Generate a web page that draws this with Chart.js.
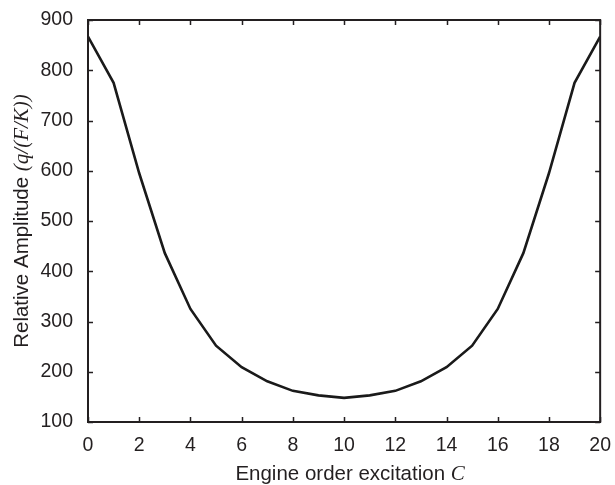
<!DOCTYPE html>
<html>
<head>
<meta charset="utf-8">
<script src="https://cdn.jsdelivr.net/npm/chart.js@4/dist/chart.umd.min.js"></script>
<style>
  html, body { margin: 0; padding: 0; background: #fff; }
  #wrap { width: 615px; height: 485px; }
</style>
</head>
<body>
<div id="wrap"><canvas id="ampChart"></canvas></div>
<script>
// engine order excitation C vs relative amplitude
const orders = [0, 1, 2, 3, 4, 5, 6, 7, 8, 9, 10, 11, 12, 13, 14, 15, 16, 17, 18, 19, 20];
const amplitude = [867, 775, 595, 436, 325, 252, 209, 181, 162, 153, 148, 153, 162, 181, 209, 252, 325, 436, 595, 775, 867];
const xTicks = [0, 2, 4, 6, 8, 10, 12, 14, 16, 18, 20];
const yTicks = [100, 200, 300, 400, 500, 600, 700, 800, 900];

const ink = '#231f20';
const sans = '"Liberation Sans", Arial, Helvetica, sans-serif';
const serif = '"Liberation Serif", "Times New Roman", serif';

// box + inward ticks + axis titles with mixed fonts
const framePlugin = {
  id: 'frame',
  afterDraw(chart) {
    const { ctx, chartArea: a, scales } = chart;
    ctx.save();
    ctx.strokeStyle = ink;
    ctx.lineWidth = 1.5;
    const len = 5;
    scales.x.ticks.forEach(t => {
      const px = Math.round(scales.x.getPixelForValue(t.value)) + 0.5;
      ctx.beginPath();
      ctx.moveTo(px, a.bottom); ctx.lineTo(px, a.bottom - len);
      ctx.moveTo(px, a.top); ctx.lineTo(px, a.top + len);
      ctx.stroke();
    });
    scales.y.ticks.forEach(t => {
      const py = Math.round(scales.y.getPixelForValue(t.value)) + 0.5;
      ctx.beginPath();
      ctx.moveTo(a.left, py); ctx.lineTo(a.left + len, py);
      ctx.moveTo(a.right, py); ctx.lineTo(a.right - len, py);
      ctx.stroke();
    });
    ctx.lineWidth = 2;
    ctx.strokeRect(a.left, a.top, a.right - a.left, a.bottom - a.top);

    // axis titles
    ctx.fillStyle = ink;
    ctx.textBaseline = 'alphabetic';
    const drawMixed = (parts, cx, cy) => {
      let total = 0;
      parts.forEach(p => { ctx.font = p.font; total += ctx.measureText(p.text).width; });
      let x = cx - total / 2;
      parts.forEach(p => {
        ctx.font = p.font;
        ctx.textAlign = 'left';
        ctx.fillText(p.text, x, cy);
        x += ctx.measureText(p.text).width;
      });
    };
    drawMixed([
      { text: 'Engine order excitation ', font: '20.5px ' + sans },
      { text: 'C', font: 'italic 21px ' + serif }
    ], (a.left + a.right) / 2 + 6, 480);

    ctx.save();
    ctx.translate(28, (a.top + a.bottom) / 2);
    ctx.rotate(-Math.PI / 2);
    drawMixed([
      { text: 'Relative Amplitude ', font: '20.5px ' + sans },
      { text: '(q/(F/K))', font: 'italic 21px ' + serif }
    ], 0, 0);
    ctx.restore();
    ctx.restore();
  }
};

new Chart(document.getElementById('ampChart'), {
  type: 'line',
  data: {
    labels: orders,
    datasets: [{
      data: orders.map((c, i) => ({ x: c, y: amplitude[i] })),
      borderColor: '#1a1a1a',
      borderWidth: 2.6,
      pointRadius: 0,
      tension: 0,
      fill: false
    }]
  },
  options: {
    responsive: true,
    maintainAspectRatio: false,
    animation: false,
    layout: { padding: { top: 20, right: 13, left: 0, bottom: 0 } },
    plugins: { legend: { display: false }, tooltip: { enabled: false } },
    scales: {
      x: {
        type: 'linear',
        min: 0, max: 20,
        afterBuildTicks: s => { s.ticks = xTicks.map(v => ({ value: v })); },
        afterFit: s => { s.height = 63; },
        grid: { display: false },
        border: { display: false },
        ticks: { color: ink, font: { family: sans, size: 19.5 }, padding: 4, maxRotation: 0 }
      },
      y: {
        min: 100, max: 900,
        afterBuildTicks: s => { s.ticks = yTicks.map(v => ({ value: v })); },
        afterFit: s => { s.width = 88; },
        grid: { display: false },
        border: { display: false },
        ticks: { color: ink, font: { family: sans, size: 19.5 }, padding: 7 }
      }
    }
  },
  plugins: [framePlugin]
});
</script>
</body>
</html>
